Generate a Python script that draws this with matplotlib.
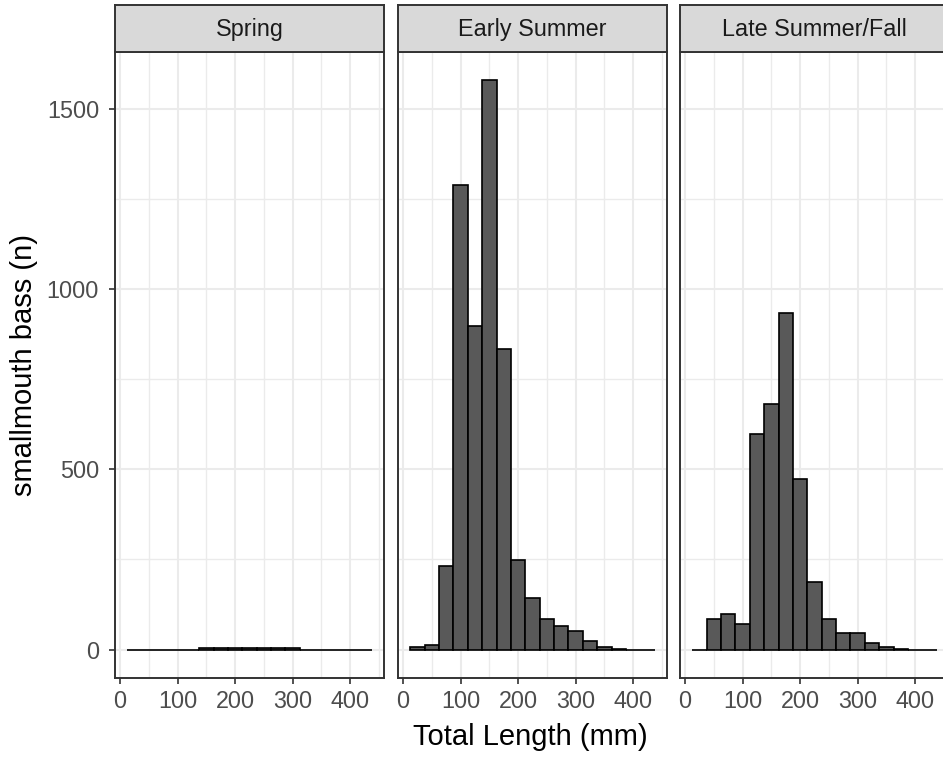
import matplotlib
matplotlib.use("Agg")
import matplotlib.pyplot as plt
import numpy as np

plt.rcParams['font.family'] = ['Liberation Sans', 'DejaVu Sans']

# Data: histogram counts by 25 mm bins
bin_centers = [25, 50, 75, 100, 125, 150, 175, 200, 225, 250, 275, 300, 325, 350, 375, 400, 425]
bin_width = 25
seasons = ["Spring", "Early Summer", "Late Summer/Fall"]
spring = [0, 0, 0, 0, 0, 4, 4, 4, 4, 4, 4, 4, 0, 0, 0, 0, 0]
early_summer = [6, 13, 232, 1287, 898, 1578, 832, 248, 143, 85, 64, 51, 23, 6, 1, 0, 0]
late_summer_fall = [0, 85, 98, 70, 599, 682, 934, 474, 187, 85, 45, 47, 19, 6, 1, 0, 0]
counts = [spring, early_summer, late_summer_fall]

x_major = [0, 100, 200, 300, 400]
x_minor = [50, 150, 250, 350, 450]
y_major = [0, 500, 1000, 1500]
y_minor = [250, 750, 1250]

W, H = 943, 759
fig = plt.figure(figsize=(W / 100, H / 100), dpi=100)
fig.patch.set_facecolor('white')

panel_lefts = [115, 398, 680]
panel_w = 269
panel_top, panel_bot = 52, 678
strip_top = 5

xlo = 12.5 - 0.05 * 425
xhi = 437.5 + 0.05 * 425
ymax = max(max(c) for c in counts)
ylo, yhi = -0.05 * ymax, ymax * 1.05

border = '#333333'
tick_fs = 16.8
for i, (season, c) in enumerate(zip(seasons, counts)):
    l = panel_lefts[i]
    ax = fig.add_axes([l / W, (H - panel_bot) / H, panel_w / W, (panel_bot - panel_top) / H])
    ax.set_xlim(xlo, xhi)
    ax.set_ylim(ylo, yhi)
    for v in x_minor:
        ax.axvline(v, color='#EBEBEB', lw=1.0, zorder=0)
    for v in y_minor:
        ax.axhline(v, color='#EBEBEB', lw=1.0, zorder=0)
    for v in x_major:
        ax.axvline(v, color='#EBEBEB', lw=1.5, zorder=0)
    for v in y_major:
        ax.axhline(v, color='#EBEBEB', lw=1.5, zorder=0)
    ax.bar(bin_centers, c, width=bin_width, color='#595959', edgecolor='black',
           linewidth=1.2, zorder=2)
    ax.set_xticks(x_major)
    ax.set_xticklabels([str(v) for v in x_major])
    ax.set_yticks(y_major)
    if i == 0:
        ax.set_yticklabels([str(v) for v in y_major])
        ax.tick_params(axis='y', length=4.5, width=1.2, color=border,
                       labelsize=tick_fs, labelcolor='#4D4D4D', pad=7)
    else:
        ax.tick_params(axis='y', length=0, labelleft=False)
    ax.tick_params(axis='x', length=4.5, width=1.2, color=border,
                   labelsize=tick_fs, labelcolor='#4D4D4D', pad=4)
    for s in ax.spines.values():
        s.set_color(border)
        s.set_linewidth(1.4)
        s.set_zorder(5)

    sax = fig.add_axes([l / W, (H - panel_top) / H, panel_w / W, (panel_top - strip_top) / H])
    sax.set_facecolor('#D9D9D9')
    sax.set_xticks([])
    sax.set_yticks([])
    for s in sax.spines.values():
        s.set_color(border)
        s.set_linewidth(1.4)
    sax.text(0.5, 0.47, season, ha='center', va='center', fontsize=tick_fs,
             color='#1A1A1A', transform=sax.transAxes)

fig.text(24 / W, 1 - 365 / H, "smallmouth bass (n)", rotation=90, ha='center', va='center',
         fontsize=21, color='black')
fig.text(530 / W, 1 - 737 / H, "Total Length (mm)", ha='center', va='center',
         fontsize=21, color='black')

fig.savefig("out.png", dpi=100)
